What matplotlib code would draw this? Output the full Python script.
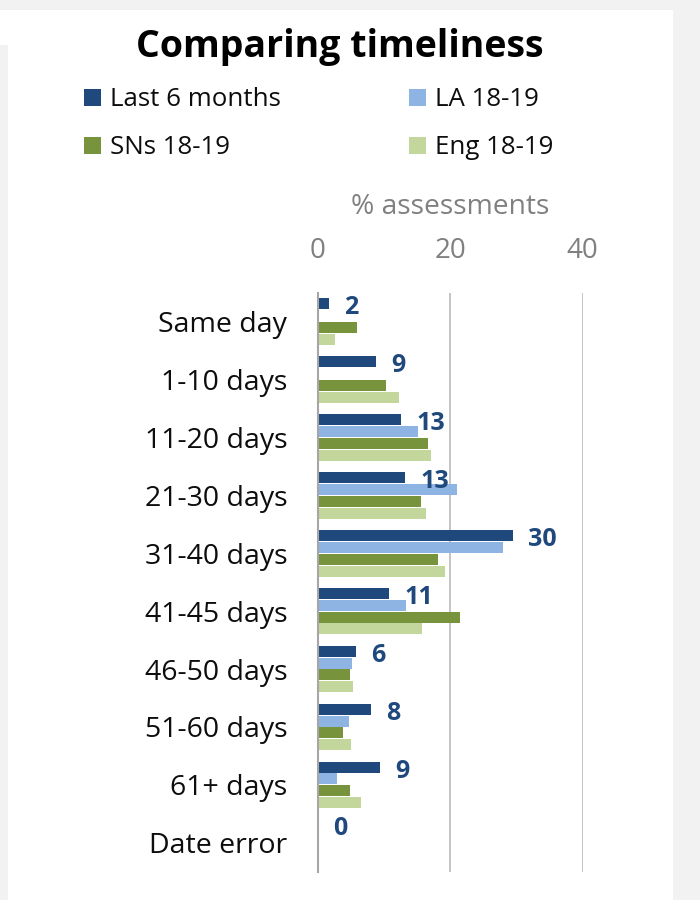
import matplotlib
matplotlib.use("Agg")
import matplotlib.pyplot as plt
import matplotlib.patches as mpatches
import numpy as np

plt.rcParams['font.family'] = ['Open Sans', 'DejaVu Sans']

categories = ["Same day", "1-10 days", "11-20 days", "21-30 days", "31-40 days",
              "41-45 days", "46-50 days", "51-60 days", "61+ days", "Date error"]
series_names = ["Last 6 months", "LA 18-19", "SNs 18-19", "Eng 18-19"]
last6 = [1.75, 8.8, 12.6, 13.2, 29.5, 10.8, 5.8, 8.1, 9.4, 0.0]
la = [0.0, 0.0, 15.1, 21.0, 28.0, 13.4, 5.2, 4.7, 2.9, 0.0]
sns_ = [5.9, 10.3, 16.7, 15.6, 18.1, 21.5, 4.8, 3.8, 4.9, 0.0]
eng = [2.6, 12.2, 17.1, 16.3, 19.2, 15.7, 5.3, 5.0, 6.6, 0.0]
last6_labels = [2, 9, 13, 13, 30, 11, 6, 8, 9, 0]
xticks = [0, 20, 40]
colors = ["#1F497D", "#8EB4E3", "#77933C", "#C3D69B"]

W, H = 700, 900
fig = plt.figure(figsize=(7, 9), dpi=100, facecolor="#F2F2F2")
# white panel
fig.patches.append(mpatches.Rectangle((0, 0), 673 / W, 1 - 10 / H, transform=fig.transFigure,
                                      facecolor="white", edgecolor="none", zorder=-10))
fig.patches.append(mpatches.Rectangle((0, 0), 8 / W, 1 - 45 / H, transform=fig.transFigure,
                                      facecolor="#F2F2F2", edgecolor="none", zorder=-9))

x0, x1 = 317.7, 582.7
ytop, ybot = 292.7, 871.7
ax = fig.add_axes([x0 / W, 1 - ybot / H, (x1 - x0) / W, (ybot - ytop) / H])
ax.set_facecolor("none")

y = np.arange(len(categories))
step = 0.205
bh = 0.19
all_series = [last6, la, sns_, eng]
bars = []
for i, (vals, c) in enumerate(zip(all_series, colors)):
    b = ax.barh(y + (i - 1.5) * step, vals, height=bh, color=c, zorder=3)
    bars.append(b)

for yi, v, lab in zip(y, last6, last6_labels):
    ax.text(v + 2.3, yi - 1.5 * step + 0.07, str(lab), ha="left", va="center",
            fontsize=18, fontweight="bold", color="#1F497D", zorder=4)

ax.set_xlim(0, 40)
ax.set_ylim(len(categories) - 0.5, -0.5)
ax.set_xticks(xticks)
ax.set_xticklabels([str(t) for t in xticks])
ax.xaxis.tick_top()
ax.tick_params(axis="x", length=0, pad=20, labelsize=20, labelcolor="#808080")
ax.set_yticks(y)
ax.set_yticklabels(categories)
ax.tick_params(axis="y", length=0, pad=22, labelsize=20.5, labelcolor="#0D0D0D")
ax.grid(axis="x", color="#BFBFBF", linewidth=1.3, zorder=0)
for s in ["top", "right", "bottom"]:
    ax.spines[s].set_visible(False)
ax.spines["left"].set_color("#A6A6A6")
ax.spines["left"].set_linewidth(1.5)
ax.spines["left"].set_zorder(5)

fig.text(450.5 / W, 1 - 207 / H, "% assessments", ha="center", va="center",
         fontsize=20.3, color="#808080")
fig.text(340 / W, 1 - 47 / H, "Comparing timeliness", ha="center", va="center",
         fontsize=27, fontweight="bold", color="black")

# legend (two columns)
leg_pos = [(84, 97.5), (409, 97.5), (84, 145.7), (409, 145.7)]
for (lx, ly), name, c in zip(leg_pos, series_names, colors):
    fig.patches.append(mpatches.Rectangle((lx / W, 1 - (ly + 8.5) / H), 17 / W, 17 / H,
                                          transform=fig.transFigure, facecolor=c,
                                          edgecolor="none"))
    fig.text((lx + 26) / W, 1 - (ly + 2) / H, name, ha="left", va="center",
             fontsize=18.6, color="#0D0D0D")

fig.savefig("out.png", dpi=100, facecolor=fig.get_facecolor())
